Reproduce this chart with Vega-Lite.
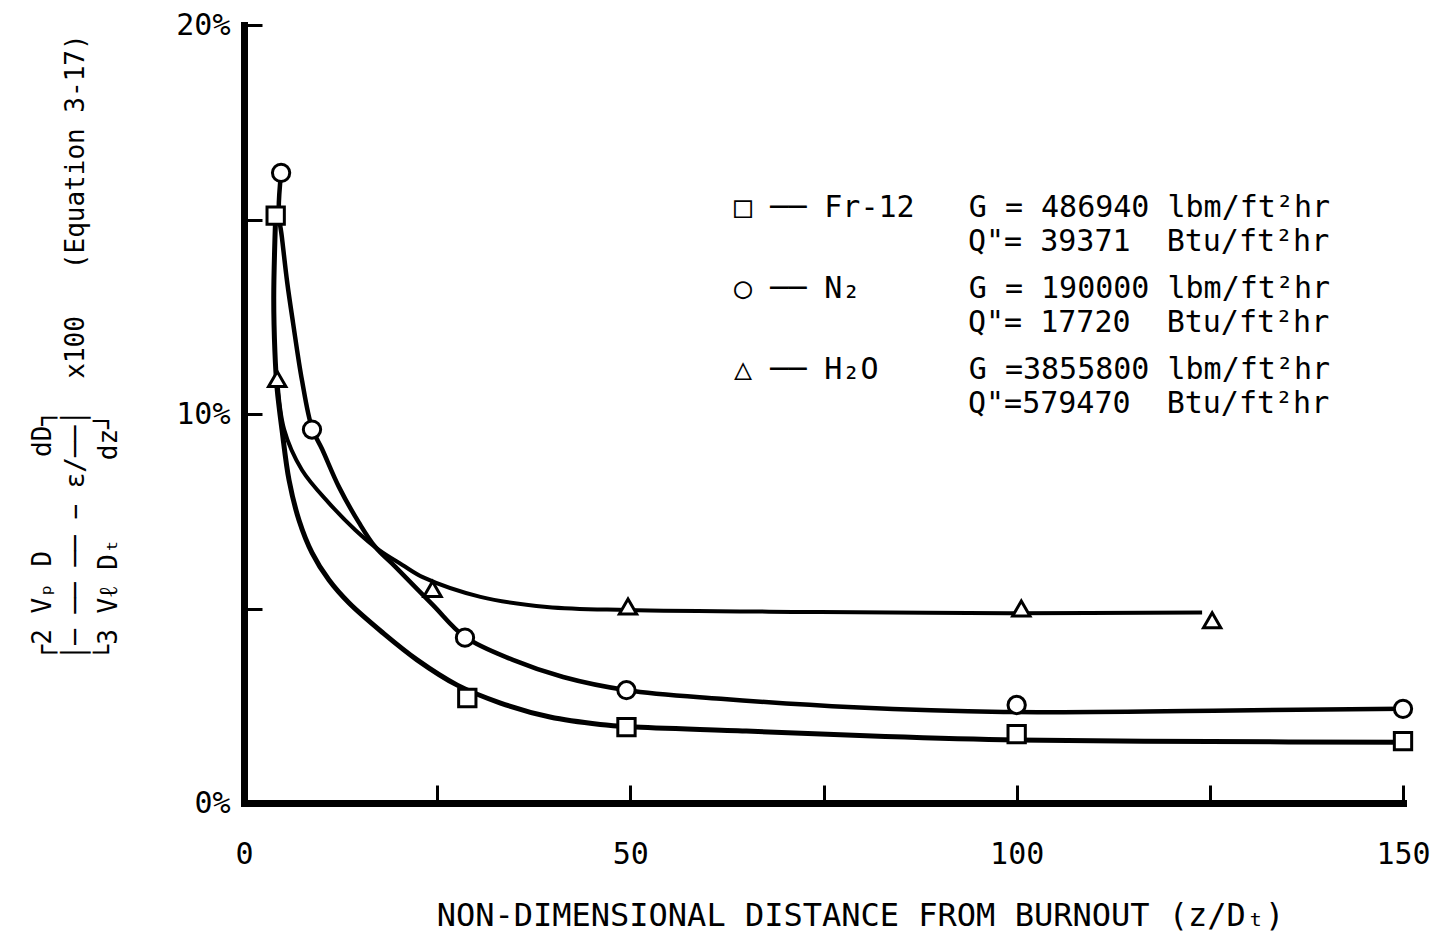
{
  "$schema": "https://vega.github.io/schema/vega-lite/v6.json",
  "width": 1159,
  "height": 778,
  "autosize": {"type": "none"},
  "padding": {"left": 244, "top": 25, "right": 32, "bottom": 141},
  "background": "white",
  "config": {"view": {"stroke": null}, "font": "DejaVu Sans Mono"},
  "datasets": {
    "curves": [
      {"series": "Fr-12", "x": 4.1, "y": 15.1},
      {"series": "Fr-12", "x": 3.85, "y": 13.0},
      {"series": "Fr-12", "x": 4.0, "y": 11.6},
      {"series": "Fr-12", "x": 4.27, "y": 10.69},
      {"series": "Fr-12", "x": 4.92, "y": 9.59},
      {"series": "Fr-12", "x": 5.83, "y": 8.3},
      {"series": "Fr-12", "x": 7.12, "y": 7.27},
      {"series": "Fr-12", "x": 8.81, "y": 6.43},
      {"series": "Fr-12", "x": 11.0, "y": 5.73},
      {"series": "Fr-12", "x": 13.6, "y": 5.14},
      {"series": "Fr-12", "x": 18.0, "y": 4.37},
      {"series": "Fr-12", "x": 22.4, "y": 3.68},
      {"series": "Fr-12", "x": 27.6, "y": 3.03},
      {"series": "Fr-12", "x": 33.2, "y": 2.57},
      {"series": "Fr-12", "x": 39.6, "y": 2.21},
      {"series": "Fr-12", "x": 46.1, "y": 2.02},
      {"series": "Fr-12", "x": 50, "y": 1.96},
      {"series": "Fr-12", "x": 65, "y": 1.85},
      {"series": "Fr-12", "x": 83, "y": 1.71},
      {"series": "Fr-12", "x": 100, "y": 1.62},
      {"series": "Fr-12", "x": 125, "y": 1.58},
      {"series": "Fr-12", "x": 150, "y": 1.56},
      {"series": "N2", "x": 4.8, "y": 16.2},
      {"series": "N2", "x": 4.5, "y": 15.2},
      {"series": "N2", "x": 4.9, "y": 14.55},
      {"series": "N2", "x": 5.6, "y": 13.37},
      {"series": "N2", "x": 6.35, "y": 12.34},
      {"series": "N2", "x": 7.5, "y": 10.87},
      {"series": "N2", "x": 8.8, "y": 9.64},
      {"series": "N2", "x": 10.1, "y": 9.1},
      {"series": "N2", "x": 12.3, "y": 8.12},
      {"series": "N2", "x": 14.9, "y": 7.2},
      {"series": "N2", "x": 17.0, "y": 6.58},
      {"series": "N2", "x": 19.6, "y": 6.07},
      {"series": "N2", "x": 24.4, "y": 5.1},
      {"series": "N2", "x": 28.6, "y": 4.27},
      {"series": "N2", "x": 34.8, "y": 3.68},
      {"series": "N2", "x": 41.3, "y": 3.24},
      {"series": "N2", "x": 49.6, "y": 2.9},
      {"series": "N2", "x": 61.7, "y": 2.68},
      {"series": "N2", "x": 78.9, "y": 2.46},
      {"series": "N2", "x": 98.3, "y": 2.34},
      {"series": "N2", "x": 128, "y": 2.38},
      {"series": "N2", "x": 150, "y": 2.42},
      {"series": "H2O", "x": 4.3, "y": 10.93},
      {"series": "H2O", "x": 5.2, "y": 9.6},
      {"series": "H2O", "x": 7.5, "y": 8.56},
      {"series": "H2O", "x": 11.0, "y": 7.71},
      {"series": "H2O", "x": 14.4, "y": 7.02},
      {"series": "H2O", "x": 17.5, "y": 6.5},
      {"series": "H2O", "x": 20.5, "y": 6.12},
      {"series": "H2O", "x": 23.2, "y": 5.8},
      {"series": "H2O", "x": 30.6, "y": 5.3},
      {"series": "H2O", "x": 39.2, "y": 5.04},
      {"series": "H2O", "x": 49.6, "y": 4.96},
      {"series": "H2O", "x": 74.6, "y": 4.91},
      {"series": "H2O", "x": 99.2, "y": 4.88},
      {"series": "H2O", "x": 124, "y": 4.9}
    ],
    "points": [
      {"series": "Fr-12", "x": 4.1, "y": 15.1},
      {"series": "Fr-12", "x": 28.9, "y": 2.7},
      {"series": "Fr-12", "x": 49.5, "y": 1.95},
      {"series": "Fr-12", "x": 100, "y": 1.77},
      {"series": "Fr-12", "x": 150, "y": 1.59},
      {"series": "N2", "x": 4.8, "y": 16.2},
      {"series": "N2", "x": 8.8, "y": 9.6},
      {"series": "N2", "x": 28.6, "y": 4.25},
      {"series": "N2", "x": 49.5, "y": 2.9},
      {"series": "N2", "x": 100, "y": 2.52},
      {"series": "N2", "x": 150, "y": 2.42},
      {"series": "H2O", "x": 4.3, "y": 10.9},
      {"series": "H2O", "x": 24.4, "y": 5.5},
      {"series": "H2O", "x": 49.7, "y": 5.05},
      {"series": "H2O", "x": 100.6, "y": 5.0},
      {"series": "H2O", "x": 125.3, "y": 4.7}
    ]
  },
  "layer": [
    {
      "data": {"name": "curves"},
      "mark": {"type": "line", "interpolate": "catmull-rom", "color": "black"},
      "encoding": {
        "x": {
          "field": "x", "type": "quantitative",
          "scale": {"domain": [0, 150], "nice": false, "zero": false},
          "axis": {
            "values": [0, 25, 50, 75, 100, 125, 150],
            "labelExpr": "datum.value % 50 == 0 ? datum.label : ''",
            "title": "NON-DIMENSIONAL DISTANCE FROM BURNOUT (z/Dₜ)",
            "grid": false,
            "domainColor": "black", "domainWidth": 7, "domainCap": "square",
            "tickColor": "black", "tickWidth": 3, "tickSize": -18,
            "labelFont": "DejaVu Sans Mono", "labelFontSize": 30, "labelColor": "black",
            "labelPadding": 54, "labelFlush": false, "labelOverlap": false,
            "titleFont": "DejaVu Sans Mono", "titleFontSize": 32, "titleFontWeight": "normal",
            "titleColor": "black", "titleX": 616, "titleY": 112, "titleBaseline": "middle"
          }
        },
        "y": {
          "field": "y", "type": "quantitative",
          "scale": {"domain": [0, 20], "nice": false},
          "axis": {
            "values": [0, 5, 10, 15, 20],
            "labelExpr": "datum.value % 10 == 0 ? datum.value + '%' : ''",
            "title": [
              "┌2\u00a0Vₚ\u00a0D\u00a0\u00a0\u00a0\u00a0\u00a0\u00a0dD┐",
              "│─\u00a0──\u00a0──\u00a0−\u00a0ε/──│\u00a0\u00a0x100\u00a0\u00a0\u00a0(Equation 3-17)",
              "└3\u00a0Vℓ\u00a0Dₜ\u00a0\u00a0\u00a0\u00a0\u00a0dz┘"
            ],
            "grid": false,
            "domainColor": "black", "domainWidth": 7, "domainCap": "square",
            "tickColor": "black", "tickWidth": 3, "tickSize": -18,
            "labelFont": "DejaVu Sans Mono", "labelFontSize": 30, "labelColor": "black",
            "labelPadding": 32, "labelFlush": false, "labelOverlap": false,
            "titleFont": "DejaVu Sans Mono", "titleFontSize": 26, "titleFontWeight": "normal",
            "titleColor": "black", "titleAngle": -90, "titleAlign": "left",
            "titleX": -202, "titleY": 635, "titleBaseline": "middle", "titleLineHeight": 33
          }
        },
        "detail": {"field": "series"},
        "order": {"value": null},
        "strokeWidth": {
          "field": "series",
          "scale": {"domain": ["H2O", "N2", "Fr-12"], "range": [4, 5, 4]},
          "legend": {
            "orient": "none", "legendX": 689, "legendY": 202, "title": null,
            "values": ["Fr-12", "N2", "H2O"],
            "labelFont": "DejaVu Sans Mono", "labelFontSize": 30, "labelColor": "black",
            "labelLimit": 0, "labelOffset": 5,
            "symbolType": "square", "symbolSize": 220, "symbolOpacity": 0,
            "symbolStrokeColor": "transparent", "symbolFillColor": "transparent",
            "rowPadding": 51,
            "labelExpr": "datum.label == 'Fr-12' ? 'Q\"=\u00a039371\u00a0\u00a0Btu/ft²hr' : datum.label == 'N2' ? 'Q\"=\u00a017720\u00a0\u00a0Btu/ft²hr' : 'Q\"=579470\u00a0\u00a0Btu/ft²hr'"
          }
        }
      }
    },
    {
      "data": {"name": "points"},
      "mark": {"type": "point", "filled": true, "fill": "white", "stroke": "black", "strokeWidth": 3, "size": 300, "opacity": 1},
      "encoding": {
        "x": {"field": "x", "type": "quantitative"},
        "y": {"field": "y", "type": "quantitative"},
        "shape": {
          "field": "series",
          "scale": {"domain": ["Fr-12", "N2", "H2O"], "range": ["square", "circle", "triangle-up"]},
          "legend": {
            "orient": "none", "legendX": 460, "legendY": 168, "title": null,
            "labelFont": "DejaVu Sans Mono", "labelFontSize": 30, "labelColor": "black",
            "labelLimit": 0, "labelOffset": 0,
            "symbolSize": 1, "symbolOpacity": 0, "rowPadding": 51,
            "labelExpr": "datum.label == 'Fr-12' ? '□\u00a0──\u00a0Fr-12\u00a0\u00a0\u00a0G\u00a0=\u00a0486940\u00a0lbm/ft²hr' : datum.label == 'N2' ? '○\u00a0──\u00a0N₂\u00a0\u00a0\u00a0\u00a0\u00a0\u00a0G\u00a0=\u00a0190000\u00a0lbm/ft²hr' : '△\u00a0──\u00a0H₂O\u00a0\u00a0\u00a0\u00a0\u00a0G\u00a0=3855800\u00a0lbm/ft²hr'"
          }
        }
      }
    }
  ]
}
